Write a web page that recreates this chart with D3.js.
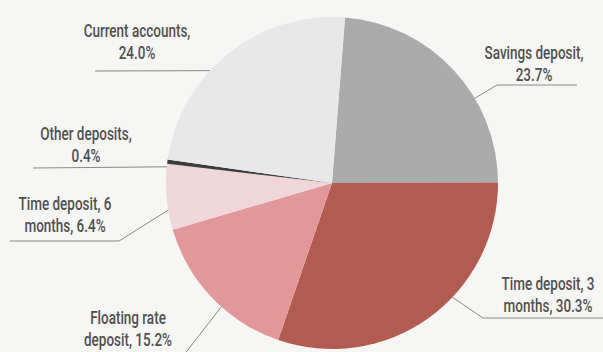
<!DOCTYPE html>
<html>
<head>
<meta charset="utf-8">
<script src="https://cdn.jsdelivr.net/npm/d3@7"></script>
<style>
  html, body { margin: 0; padding: 0; background: #f6f6f4; }
  svg { display: block; }
  .lbl { font-family: Roboto, 'Liberation Sans', sans-serif; font-weight: 500; font-size: 18px; fill: #505050; }
</style>
</head>
<body>
<svg id="chart" width="603" height="352"></svg>
<script>
// Deposit structure, share of total (%), clockwise from the top
const categories = ["Savings deposit", "Time deposit, 3 months", "Floating rate deposit",
                    "Time deposit, 6 months", "Other deposits", "Current accounts"];
const values = [23.7, 30.3, 15.2, 6.4, 0.4, 24.0];
const labelLines = [
  ["Savings deposit,", "23.7%"],
  ["Time deposit, 3", "months, 30.3%"],
  ["Floating rate", "deposit, 15.2%"],
  ["Time deposit, 6", "months, 6.4%"],
  ["Other deposits,", "0.4%"],
  ["Current accounts,", "24.0%"]
];
const colors = ["#ababab", "#b25b50", "#e09899", "#f0d5d9", "#3c3c3c", "#e8e8e8"];

// Label placement: text centre, first baseline, leader anchor angle on the rim (deg) and leader path
const labelLayout = {
  "Savings deposit":        { x: 534, y: 59,  anchorDeg: 59.3,  path: [[497, 85], [577, 85]] },
  "Time deposit, 3 months": { x: 548, y: 290, anchorDeg: 133.5, path: [[483, 318], [603, 318]] },
  "Floating rate deposit":  { x: 128, y: 324, anchorDeg: 221.8, path: [[180, 360]] },
  "Time deposit, 6 months": { x: 65,  y: 210, anchorDeg: 260.6, path: [[119, 241], [10, 241]] },
  "Other deposits":         { x: 86,  y: 140, anchorDeg: 275.6, path: [[33, 168]] },
  "Current accounts":       { x: 137, y: 37,  anchorDeg: 312.6, path: [[95, 71]] }
};
const condense = 0.75;  // horizontal squeeze for a condensed look
const lineGap = 22;

const svg = d3.select("#chart");
const cx = 332, cy = 183, radius = 166;
const startDeg = 4.5;
const toRad = d => d * Math.PI / 180;

const pie = d3.pie()
  .sort(null)
  .value(d => d.value)
  .startAngle(toRad(startDeg))
  .endAngle(toRad(startDeg + 360));

const data = categories.map((c, i) => ({ category: c, value: values[i], color: colors[i], lines: labelLines[i] }));
const arcs = pie(data);
const arc = d3.arc().innerRadius(0).outerRadius(radius);

const g = svg.append("g").attr("transform", `translate(${cx},${cy})`);
g.selectAll("path.slice")
  .data(arcs)
  .join("path")
  .attr("class", "slice")
  .attr("d", arc)
  .attr("fill", d => d.data.color);

// Leader lines from the rim out to each label
const rim = a => [cx + radius * Math.sin(toRad(a)), cy - radius * Math.cos(toRad(a))];
const line = d3.line();
svg.selectAll("path.leader")
  .data(arcs)
  .join("path")
  .attr("class", "leader")
  .attr("d", d => {
    const L = labelLayout[d.data.category];
    return line([rim(L.anchorDeg), ...L.path]);
  })
  .attr("fill", "none")
  .attr("stroke", "#8a8a8a")
  .attr("stroke-width", 1);

// Two-line labels
const labels = svg.selectAll("g.lbl-g")
  .data(arcs)
  .join("g")
  .attr("class", "lbl-g")
  .attr("transform", d => {
    const L = labelLayout[d.data.category];
    return `translate(${L.x},${L.y}) scale(${condense},1)`;
  })
  .append("text")
  .attr("class", "lbl")
  .attr("text-anchor", "middle");
labels.selectAll("tspan")
  .data(d => d.data.lines.map((t, i) => ({ t, i })))
  .join("tspan")
  .attr("x", 0)
  .attr("dy", d => d.i === 0 ? 0 : lineGap)
  .text(d => d.t);
</script>
</body>
</html>
